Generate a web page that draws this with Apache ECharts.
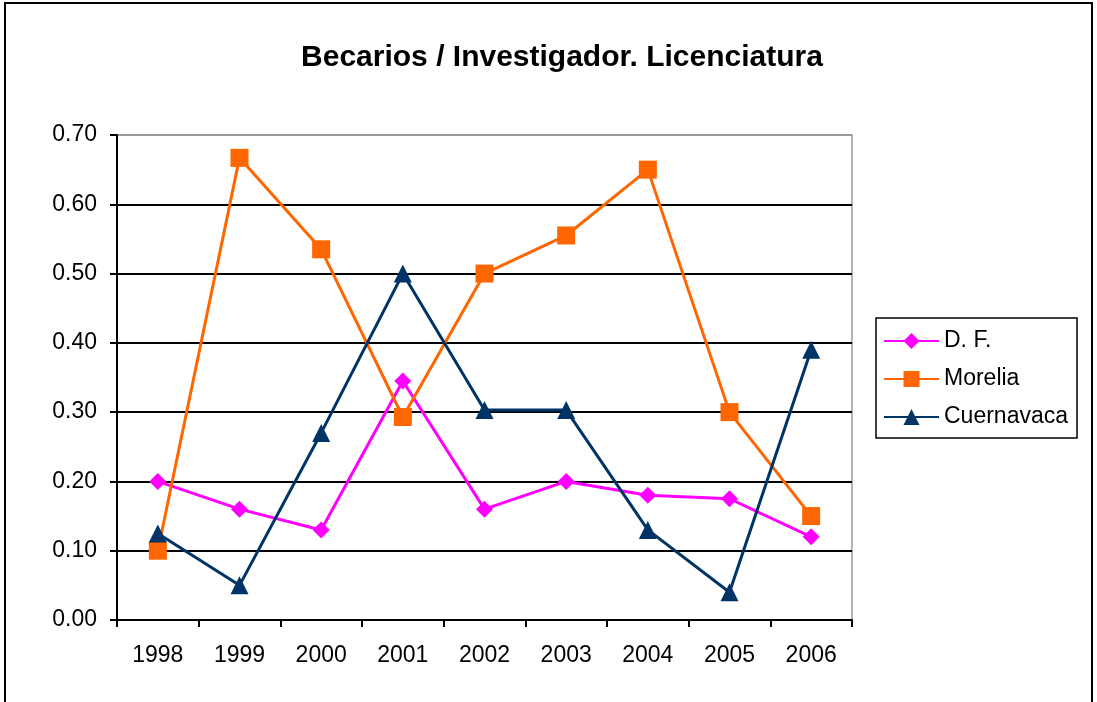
<!DOCTYPE html>
<html>
<head>
  <meta charset="utf-8" />
  <title>Becarios / Investigador. Licenciatura</title>
  <script src="https://cdn.jsdelivr.net/npm/echarts@6/dist/echarts.min.js"></script>
  <style>
    html, body { margin: 0; padding: 0; background: #fff; }
    #main { width: 1097px; height: 702px; }
  </style>
</head>
<body>
  <div id="main"></div>
  <script>
    // datos
    var years = ['1998', '1999', '2000', '2001', '2002', '2003', '2004', '2005', '2006'];
    var df = [0.20, 0.16, 0.13, 0.345, 0.16, 0.20, 0.18, 0.175, 0.12];
    var morelia = [0.10, 0.667, 0.535, 0.293, 0.50, 0.555, 0.65, 0.30, 0.15];
    var cuernavaca = [0.125, 0.05, 0.27, 0.50, 0.303, 0.303, 0.13, 0.04, 0.39];

    var font = 'Liberation Sans, Arial, sans-serif';
    var chart = echarts.init(document.getElementById('main'));

    var option = {
      animation: false,
      backgroundColor: '#fff',
      title: {
        text: 'Becarios / Investigador. Licenciatura',
        left: 557,
        textAlign: 'center',
        top: 38,
        textStyle: { fontFamily: font, fontSize: 30, fontWeight: 'bold', color: '#000' }
      },
      graphic: [{
        type: 'rect',
        shape: { x: 5, y: 3, width: 1087, height: 720 },
        style: { fill: 'none', stroke: '#000', lineWidth: 2 },
        silent: true
      }],
      legend: {
        orient: 'vertical',
        left: 876,
        top: 318,
        padding: [11, 9, 9, 7],
        itemGap: 14,
        itemWidth: 55,
        itemHeight: 20,
        borderColor: '#000',
        borderWidth: 1.5,
        textStyle: { fontFamily: font, fontSize: 23, color: '#000', lineHeight: 24 },
        data: ['D. F.', 'Morelia', 'Cuernavaca']
      },
      grid: {
        left: 117, right: 245, top: 135, bottom: 82,
        show: true, borderColor: '#999', borderWidth: 1.5
      },
      xAxis: {
        type: 'category',
        data: years,
        boundaryGap: true,
        axisLine: { lineStyle: { color: '#000', width: 2 } },
        axisTick: { show: true, interval: 0, length: 7, lineStyle: { color: '#000', width: 2 } },
        axisLabel: { fontFamily: font, fontSize: 23, color: '#000', margin: 24 }
      },
      yAxis: {
        type: 'value',
        min: 0,
        max: 0.7,
        interval: 0.1,
        axisLine: { show: true, lineStyle: { color: '#000', width: 2 } },
        axisTick: { show: true, length: 7, lineStyle: { color: '#000', width: 2 } },
        axisLabel: {
          fontFamily: font, fontSize: 23, color: '#000', margin: 20,
          formatter: function (v) { return v.toFixed(2); }
        },
        splitLine: {
          lineStyle: {
            color: ['#000', '#000', '#000', '#000', '#000', '#000', '#000', '#999'],
            width: 2
          }
        }
      },
      series: [{
        name: 'D. F.',
        type: 'line',
        data: df,
        symbol: 'diamond',
        symbolSize: 17,
        color: '#ff00ff',
        lineStyle: { width: 3 }
      }, {
        name: 'Morelia',
        type: 'line',
        data: morelia,
        symbol: 'rect',
        symbolSize: 18,
        color: '#ff6600',
        lineStyle: { width: 3 }
      }, {
        name: 'Cuernavaca',
        type: 'line',
        data: cuernavaca,
        symbol: 'triangle',
        symbolSize: 18,
        color: '#003366',
        lineStyle: { width: 3 }
      }]
    };
    chart.setOption(option);
  </script>
</body>
</html>
